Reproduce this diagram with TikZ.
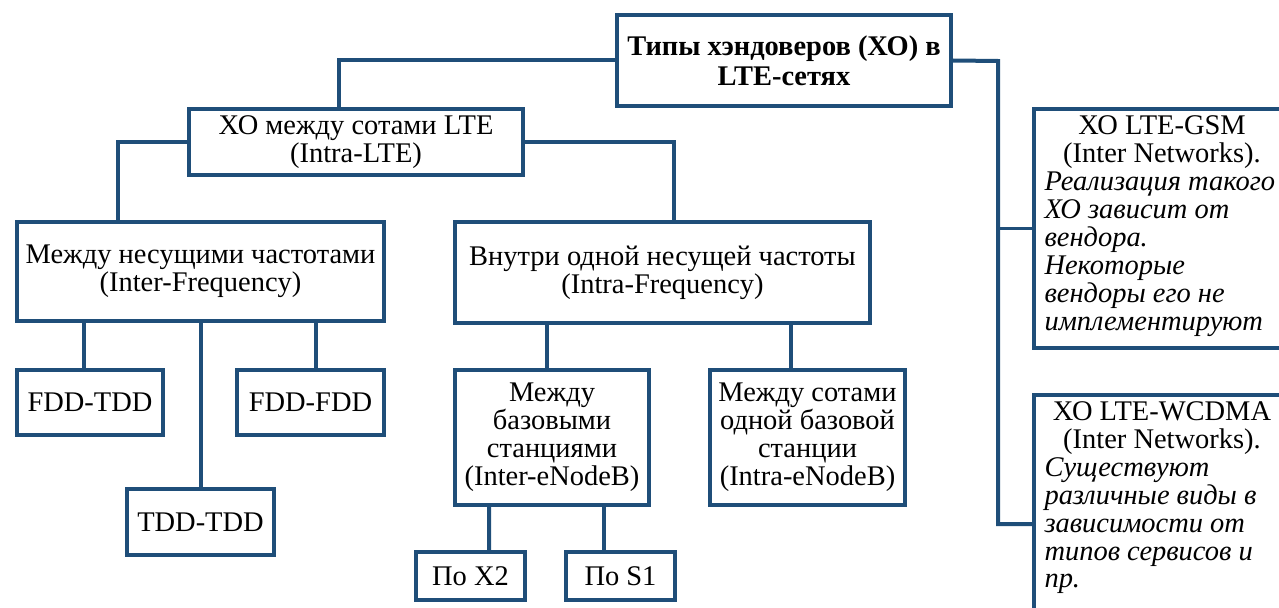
\documentclass[tikz,border=0pt]{standalone}
\usepackage{fontspec}
\setmainfont{Liberation Serif}
\usepackage{xcolor}
\usetikzlibrary{positioning}
\usetikzlibrary{calc}
\definecolor{xoblue}{RGB}{31,78,121}
\newcommand{\xoit}{\fontsize{16.2}{15.9}\selectfont\itshape}
\tikzset{
	xobox/.style={draw=xoblue, line width=0.08cm, fill=white, align=center, inner sep=0pt, font=\fontsize{16.2}{15.9}\selectfont},
	xoline/.style={draw=xoblue, line width=0.08cm},
}

\begin{document}
\begin{tikzpicture}[x=0.02cm, y=-0.02cm]
	\useasboundingbox (0,0) rectangle (1279,608);
	\clip (0,0) rectangle (1279,608);
	% Top level
	\node[xobox, minimum width=6.68cm, minimum height=1.82cm, font=\fontsize{16.2}{17}\selectfont\bfseries] (root) at (784,60.5) {Типы хэндоверов (ХО) в\\LTE-сетях};
	\node[xobox, minimum width=6.68cm, minimum height=1.32cm] (intra) at (356,142) {ХО между сотами LTE\\(Intra-LTE)};
	% Frequency level
	\node[xobox, minimum width=7.34cm, minimum height=1.98cm] (interf) at (200.5,271.5) {Между несущими частотами\\(Inter-Frequency)};
	\node[xobox, minimum width=8.3cm, minimum height=2.02cm] (intraf) at (662.5,272.5) {Внутри одной несущей частоты\\(Intra-Frequency)};
	% Duplex modes
	\node[xobox, minimum width=2.92cm, minimum height=1.3cm] (fddtdd) at (90,402.5) {FDD-TDD};
	\node[xobox, minimum width=2.94cm, minimum height=1.3cm] (fddfdd) at (310.5,402.5) {FDD-FDD};
	\node[xobox, minimum width=2.94cm, minimum height=1.32cm] (tddtdd) at (200.5,522) {TDD-TDD};
	% eNodeB level
	\node[xobox, minimum width=3.88cm, minimum height=2.7cm] (interb) at (552,437.5) {Между\\базовыми\\станциями\\(Inter-eNodeB)};
	\node[xobox, minimum width=3.9cm, minimum height=2.7cm] (intrab) at (807.5,437.5) {Между сотами\\одной базовой\\станции\\(Intra-eNodeB)};
	\node[xobox, minimum width=2.18cm, minimum height=0.96cm] (x2) at (470.5,576) {По X2};
	\node[xobox, minimum width=2.18cm, minimum height=0.96cm] (s1) at (620.5,576) {По S1};
	% Inter networks
	\node[xobox, inner xsep=0.21cm, inner ysep=0.14cm] (gsm) at (1162,228.5) {\parbox[c][4.5cm][t]{4.7cm}{{\centering ХО LTE-GSM\\(Inter Networks).\par}\raggedright\xoit \mbox{Реализация такого}\\ХО зависит от\\вендора.\\Некоторые\\вендоры его не\\\mbox{имплементируют}}};
	\node[xobox, inner xsep=0.21cm, inner ysep=0.13cm] (wcdma) at (1162,524) {\parbox[c][4.9cm][t]{4.7cm}{{\centering ХО LTE-WCDMA\\(Inter Networks).\par}\raggedright\xoit Существуют\\\mbox{различные виды в}\\зависимости от\\\mbox{типов сервисов и}\\пр.}};
	% Connectors
	\coordinate (bus) at (998,61);
	\draw[xoline] (root.west) -| ($(intra.north)+(-17,0)$);
	\draw[xoline] (root.east) -- (bus) |- (wcdma.west);
	\draw[xoline] (bus |- gsm.west) -- (gsm.west);
	\draw[xoline] (intra.west) -| ($(interf.north)+(-82.5,0)$);
	\draw[xoline] (intra.east) -| ($(intraf.north)+(11.5,0)$);
	\draw[xoline] ($(interf.south)+(-116.5,0)$) -- ($(fddtdd.north)+(-6,0)$);
	\draw[xoline] (interf.south) -- (tddtdd.north);
	\draw[xoline] ($(interf.south)+(115.5,0)$) -- ($(fddfdd.north)+(5.5,0)$);
	\draw[xoline] ($(intraf.south)+(-115.5,0)$) -- ($(interb.north)+(-5,0)$);
	\draw[xoline] ($(intraf.south)+(128,0)$) -- ($(intrab.north)+(-17,0)$);
	\draw[xoline] ($(interb.south)+(-63,0)$) -- ($(x2.north)+(18.5,0)$);
	\draw[xoline] ($(interb.south)+(52,0)$) -- ($(s1.north)+(-16.5,0)$);
\end{tikzpicture}
\end{document}
